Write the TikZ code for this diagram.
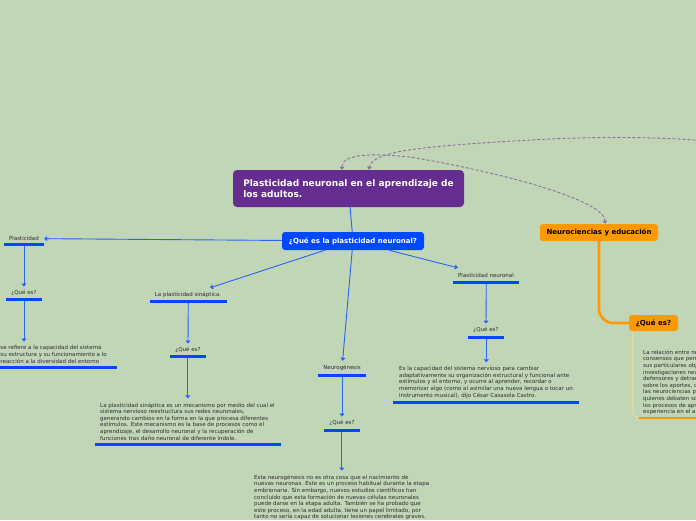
\documentclass[tikz,border=0pt]{standalone}
\usepackage{fontspec}
\setmainfont{DejaVu Sans}
\usetikzlibrary{arrows.meta}
\definecolor{bg}{RGB}{193,213,183}
\definecolor{mpurple}{RGB}{102,45,145}
\definecolor{mblue}{RGB}{0,72,255}
\definecolor{lblue}{RGB}{40,100,245}
\definecolor{morange}{RGB}{255,153,0}
\definecolor{pale}{RGB}{235,215,150}
\definecolor{dashc}{RGB}{140,112,165}
\definecolor{txt}{RGB}{45,45,45}
\begin{document}
\begin{tikzpicture}[x=1pt,y=-1pt,
  smalltxt/.style={font=\fontsize{5.5}{6.6}\selectfont, text=txt},
  topic/.style={smalltxt, inner sep=0, minimum height=14pt},
  qlabel/.style={smalltxt, inner sep=0, minimum height=12.5pt, minimum width=35pt},
  ubar/.style={fill=mblue, inner sep=0, minimum height=3pt},
  desctxt/.style={smalltxt, align=left, inner sep=0, anchor=north west},
  conn/.style={lblue, line width=0.9pt, -{Triangle[length=3pt,width=5pt]}},
  dconn/.style={conn, shorten >=4pt},
  dashconn/.style={dashc, line width=0.9pt, dash pattern=on 3pt off 2pt},
  tip/.tip={Triangle[length=3pt,width=4.5pt]},
]
\useasboundingbox (0,0) rectangle (696,520);
\fill[bg] (0,0) rectangle (696,520);

% central nodes
\node[fill=mpurple, rounded corners=4pt, minimum width=231pt, minimum height=37pt,
      text=white, font=\fontsize{9}{11}\selectfont\bfseries, align=left, inner xsep=10pt]
      (main) at (348.5,188.5) {Plasticidad neuronal en el aprendizaje de\\los adultos.};
\node[fill=mblue, rounded corners=3pt, minimum width=142pt, minimum height=18pt,
      text=white, font=\fontsize{7}{8}\selectfont\bfseries, inner sep=0]
      (qn) at (353,241) {¿Qué es la plasticidad neuronal?};
\node[fill=morange, rounded corners=3pt, minimum width=118pt, minimum height=17pt,
      text=black, font=\fontsize{7}{8}\selectfont\bfseries, inner sep=0]
      (ne) at (599,232.5) {Neurociencias y educación};
\node[fill=morange, rounded corners=3pt, minimum width=49pt, minimum height=16pt,
      text=black, font=\fontsize{7}{8}\selectfont\bfseries, inner sep=0]
      (qo) at (653.5,323) {¿Qué es?};

% left branch
\node[topic, minimum width=40pt] (t1) at (24,238.5) {Plasticidad};
\node[ubar, minimum width=40pt] (b1) at (24,244.5) {};
\node[qlabel] (q1) at (24,293) {¿Qué es?};
\node[ubar, minimum width=35.5pt] (b2) at (24,299.5) {};
\node[desctxt] (d1) at (0.3,345.6) {se refiere a la capacidad del sistema\\su estructura y su funcionamiento a lo\\reacción a la diversidad del entorno};
\node[ubar, minimum width=126pt] (b3) at (54,367.5) {};

% synaptic branch
\node[topic, minimum width=76.5pt] (t2) at (188,295) {La plasticidad sináptica.};
\node[ubar, minimum width=76.5pt] (b4) at (188.3,301.5) {};
\node[qlabel] (q2) at (188,350) {¿Qué es?};
\node[ubar, minimum width=35.5pt] (b5) at (187.8,356.7) {};
\node[desctxt] (d2) at (100,402.4) {La plasticidad sináptica es un mecanismo por medio del cual el\\sistema nervioso reestructura sus redes neuronales,\\generando cambios en la forma en la que procesa diferentes\\estímulos. Este mecanismo es la base de procesos como el\\aprendizaje, el desarrollo neuronal y la recuperación de\\funciones tras daño neuronal de diferente índole.};
\node[ubar, minimum width=185.5pt] (b6) at (187.9,444.2) {};

% neurogenesis branch
\node[topic, minimum width=47.5pt] (t3) at (342,368) {Neurogénesis};
\node[ubar, minimum width=47.5pt] (b7) at (342,375.2) {};
\node[qlabel] (q3) at (342,423) {¿Qué es?};
\node[ubar, minimum width=35.5pt] (b8) at (341.8,430.2) {};
\node[desctxt] (d3) at (254,474.6) {Esta neurogénesis no es otra cosa que el nacimiento de\\nuevas neuronas. Este es un proceso habitual durante la etapa\\embrionaria. Sin embargo, nuevos estudios científicos han\\concluido que esta formación de nuevas células neuronales\\puede darse en la etapa adulta. También se ha probado que\\este proceso, en la edad adulta, tiene un papel limitado, por\\tanto no sería capaz de solucionar lesiones cerebrales graves.};

% neural plasticity branch
\node[topic, minimum width=66pt] (t4) at (486,275) {Plasticidad neuronal};
\node[ubar, minimum width=66pt] (b9) at (486.3,282.3) {};
\node[qlabel] (q4) at (486,330) {¿Qué es?};
\node[ubar, minimum width=36pt] (b10) at (486.3,337.3) {};
\node[desctxt] (d4) at (399,366.3) {Es la capacidad del sistema nervioso para cambiar\\adaptativamente su organización estructural y funcional ante\\estímulos y el entorno, y ocurre al aprender, recordar o\\memorizar algo (como al asimilar una nueva lengua o tocar un\\instrumento musical), dijo César Casasola Castro.};
\node[ubar, minimum width=185.5pt] (b11) at (486.2,402.3) {};

% neurociencias branch
\node[desctxt] (d5) at (643,349.6) {La relación entre ne\\consensos que perm\\sus particulares obj\\investigaciones neu\\defensores y detrac\\sobre los aportes, c\\las neurociencias p\\quienes debaten so\\los procesos de apr\\experiencia en el a};
\node[fill=morange, inner sep=0, minimum height=2.6pt, minimum width=62pt] (ob) at (669,418) {};

% connectors
\draw[lblue, line width=0.9pt] (main) -- (qn);
\draw[conn] (qn) -- (t1);
\draw[conn] (qn) -- (t2);
\draw[conn] (qn) -- (t3);
\draw[conn] (qn) -- (t4);
\draw[conn] (b1.south) -- (q1.north);
\draw[dconn] (b2.south) -- (b2.south |- d1.north);
\draw[conn] (b4.south) -- (q2.north);
\draw[dconn] (b5.south) -- (b5.south |- d2.north);
\draw[conn] (b7.south) -- (q3.north);
\draw[dconn] (b8.south) -- (b8.south |- d3.north);
\draw[conn] (b9.south) -- (q4.north);
\draw[dconn] (b10.south) -- (b10.south |- d4.north);

\draw[morange, line width=2.6pt, rounded corners=14pt] (ne.south) |- (qo.west);
\draw[pale, line width=1.3pt, rounded corners=6pt] ([xshift=4pt]qo.south west) |- (ob.west);

% dashed relations
\coordinate (ma) at (410,157);
\coordinate (mb) at (530,140);
\coordinate (offR) at (740,145);
\draw[dashconn, {tip}-{tip}] ([xshift=-6.5pt]main.north) .. controls (342,152) and (380,154) .. (ma)
      .. controls (500,172) and (605,200) .. ([xshift=6pt]ne.north);
\draw[dashconn, -{tip}] (offR) .. controls (680,136) and (600,136) .. (mb)
      .. controls (430,146) and (372,150) .. ([xshift=20.5pt]main.north);
\end{tikzpicture}
\end{document}
